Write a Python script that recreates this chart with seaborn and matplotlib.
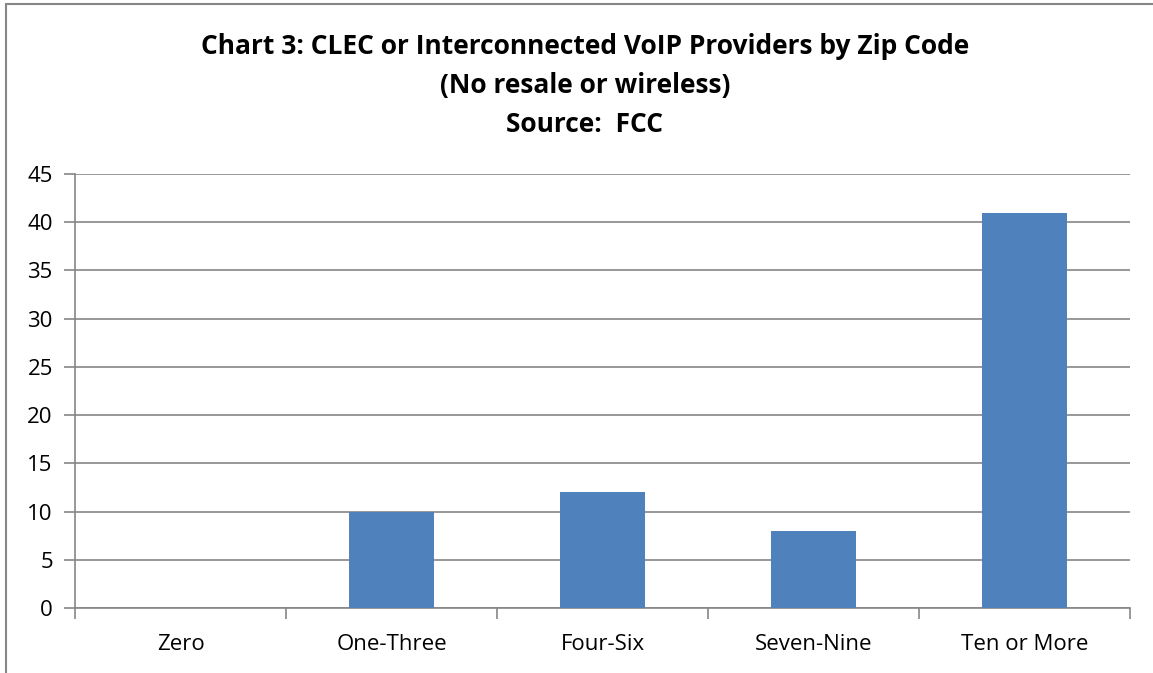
import matplotlib
matplotlib.use("Agg")
import matplotlib.pyplot as plt
import seaborn as sns
import pandas as pd
from matplotlib.lines import Line2D

categories = ["Zero", "One-Three", "Four-Six", "Seven-Nine", "Ten or More"]
values = [0, 10, 12, 8, 41]
yticks = [0, 5, 10, 15, 20, 25, 30, 35, 40, 45]

sns.set_theme(style="white")
plt.rcParams['font.family'] = ['Open Sans', 'DejaVu Sans']
plt.rcParams['text.color'] = 'black'

W, H = 1153, 673
fig = plt.figure(figsize=(W/100, H/100), dpi=100)
ax = fig.add_axes([75/W, 1-608/H, (1130-75)/W, (608-174)/H])

df = pd.DataFrame({"cat": categories, "val": values})
sns.barplot(data=df, x="cat", y="val", color="#4F81BD", saturation=1, width=0.4,
            linewidth=0, edgecolor="none", ax=ax, zorder=3)

grid_c = "#868686"
ax.set_ylim(0, 45)
ax.set_yticks(yticks)
ax.set_xlim(-0.5, 4.5)
ax.yaxis.grid(True, color=grid_c, linewidth=1.2, zorder=0)
ax.set_axisbelow(True)
for s in ["top", "right"]:
    ax.spines[s].set_visible(False)
for s in ["left", "bottom"]:
    ax.spines[s].set_color(grid_c)
    ax.spines[s].set_linewidth(1.2)
ax.tick_params(axis="y", length=8, color=grid_c, width=1.2, labelsize=16, pad=8, left=True,
               labelcolor="black")
ax.tick_params(axis="x", length=0, labelsize=16, pad=19, labelcolor="black")
ax.set_xticks([i - 0.5 for i in range(6)], minor=True)
ax.tick_params(axis="x", which="minor", length=8, color=grid_c, width=1.2, bottom=True, direction="out")
ax.set_xlabel("")
ax.set_ylabel("")

tkw = dict(ha="center", va="center", fontsize=19, fontweight="bold", color="black")
fig.text(585/W, 1-47/H, "Chart 3: CLEC or Interconnected VoIP Providers by Zip Code", **tkw)
fig.text(585/W, 1-85/H, "(No resale or wireless)", **tkw)
fig.text(585/W, 1-124/H, "Source:  FCC", **tkw)

fig.add_artist(Line2D([6/W, 6/W], [0, 1-4/H], color=grid_c, linewidth=1.5, transform=fig.transFigure))
fig.add_artist(Line2D([6/W, 1], [1-4/H, 1-4/H], color=grid_c, linewidth=1.5, transform=fig.transFigure))

fig.savefig("out.png", dpi=100)
